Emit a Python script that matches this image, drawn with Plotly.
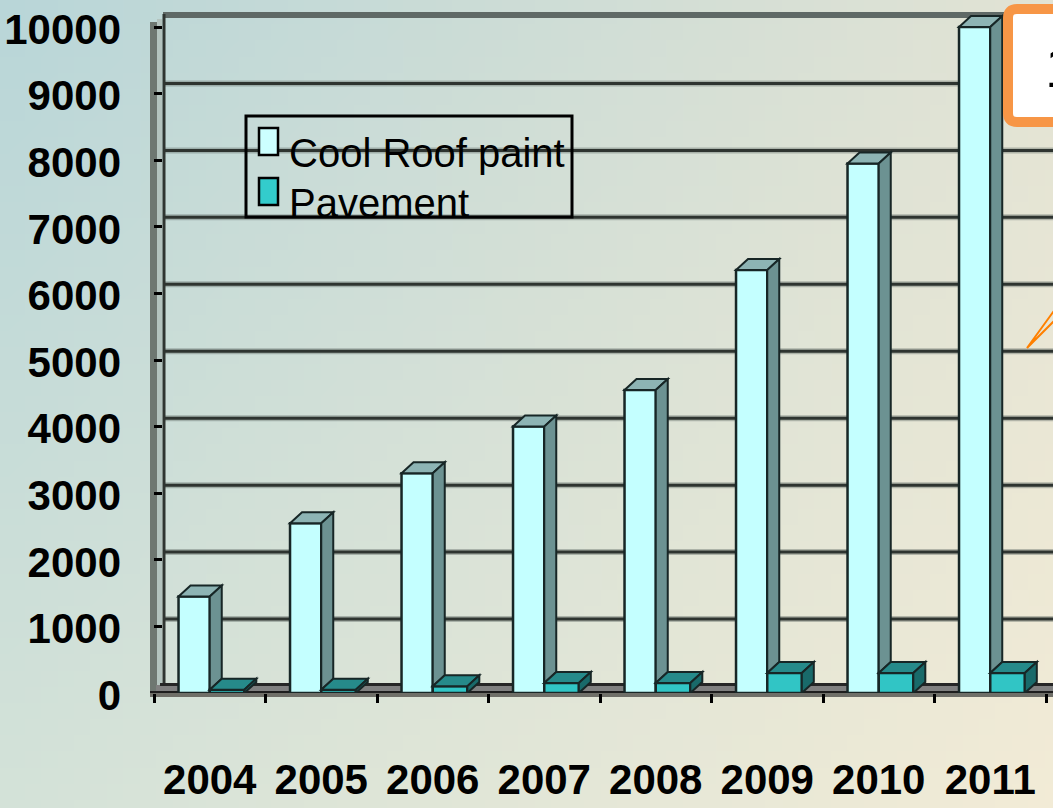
import base64
import struct
import zlib

import plotly.graph_objects as go

# ---- data -------------------------------------------------------------
YEARS = ["2004", "2005", "2006", "2007", "2008", "2009", "2010", "2011"]
COOL_ROOF = [1450, 2550, 3300, 4000, 4550, 6350, 7950, 10000]
PAVEMENT = [50, 50, 100, 150, 150, 300, 300, 300]
Y_TICKS = [0, 1000, 2000, 3000, 4000, 5000, 6000, 7000, 8000, 9000, 10000]
SERIES_NAMES = ["Cool Roof paint", "Pavement"]
CALLOUT_TEXT = "1"

# ---- geometry ----------------------------------------------------------
W, H = 1053, 808
ML, MR, MT, MB = 154, 0, 10, 115
PW, PH = W - ML - MR, H - MT - MB
BASE_PX = H - MB              # pixel row of the value 0 on the front plane
CAT_PX = 111.5                # width of one category in pixels
X_RANGE = [-0.5, -0.5 + PW / CAT_PX]
Y_MAX = 10000
FRONT_TOP_PX = 27             # pixel row of Y_MAX on the front plane
PX_PER_UNIT = (BASE_PX - FRONT_TOP_PX) / Y_MAX
Y_RANGE = [0, PH / PX_PER_UNIT]   # leaves headroom for the top faces of the tallest column
BACK_DOMAIN = [(BASE_PX - 686) / PH, (BASE_PX - 16.5) / PH]   # back wall scale

COOL_W, PAV_W = 0.28, 0.31    # bar widths in category units
DEPTH_X = 12 / CAT_PX         # 3-D depth offset (x, category units)
DEPTH_Y = 11 / PX_PER_UNIT    # 3-D depth offset (y, value units)

FONT = "Liberation Sans, Arial, sans-serif"

COOL_FRONT, COOL_TOP, COOL_SIDE = "#c4ffff", "#8db4b4", "#6c9292"
PAV_FRONT, PAV_TOP, PAV_SIDE = "#31c5c5", "#268a8a", "#196a6a"
EDGE = "#172626"


def gradient_png(w, h, tl, tr, bl, br):
    """Build a small bilinear-gradient PNG as a data URI."""
    rows = []
    for j in range(h):
        fy = j / (h - 1)
        row = bytearray([0])
        for i in range(w):
            fx = i / (w - 1)
            for k in range(3):
                top = (1 - fx) * tl[k] + fx * tr[k]
                bot = (1 - fx) * bl[k] + fx * br[k]
                row.append(int(round((1 - fy) * top + fy * bot)))
        rows.append(bytes(row))
    raw = b"".join(rows)

    def chunk(tag, data):
        body = tag + data
        return struct.pack(">I", len(data)) + body + struct.pack(">I", zlib.crc32(body) & 0xFFFFFFFF)

    png = (b"\x89PNG\r\n\x1a\n"
           + chunk(b"IHDR", struct.pack(">IIBBBBB", w, h, 8, 2, 0, 0, 0))
           + chunk(b"IDAT", zlib.compress(raw, 9))
           + chunk(b"IEND", b""))
    return "data:image/png;base64," + base64.b64encode(png).decode()


def pix_shape(path, **kw):
    """Shape drawn in figure pixels (origin top-left), converted to plot-relative pixels.

    Each command carries exactly one group of parameters, as plotly expects."""
    parts = []
    for cmd, pts in path:
        coords = " ".join(f"{x - ML:.2f},{BASE_PX - y:.2f}" for x, y in pts)
        parts.append(f"{cmd}{coords}")
    d = dict(type="path", xref="paper", yref="paper", xsizemode="pixel", ysizemode="pixel",
             xanchor=0, yanchor=0, path=" ".join(parts))
    d.update(kw)
    return d


def poly_px(pts, close=True, **kw):
    cmds = [("M", [pts[0]])] + [("L", [p]) for p in pts[1:]]
    if close:
        cmds.append(("Z", []))
    return pix_shape(cmds, **kw)


def rect_px(x0, y0, x1, y1, **kw):
    return poly_px([(x0, y0), (x1, y0), (x1, y1), (x0, y1)], **kw)


def line_px(x0, y0, x1, y1, color, width, **kw):
    return poly_px([(x0, y0), (x1, y1)], close=False, line=dict(color=color, width=width), **kw)


def poly_data(pts, fill, **kw):
    d = "M" + " L".join(f"{x:.4f},{y:.2f}" for x, y in pts) + " Z"
    return dict(type="path", xref="x", yref="y", path=d, fillcolor=fill,
                line=dict(color=EDGE, width=2), layer="above", **kw)


fig = go.Figure()

fig.add_bar(x=YEARS, y=COOL_ROOF, name=SERIES_NAMES[0], offset=-COOL_W, width=COOL_W,
            marker=dict(color=COOL_FRONT, line=dict(color=EDGE, width=2.5)), showlegend=False)
fig.add_bar(x=YEARS, y=PAVEMENT, name=SERIES_NAMES[1], offset=0, width=PAV_W,
            marker=dict(color=PAV_FRONT, line=dict(color=EDGE, width=2.5)), showlegend=False)

shapes = []

# back wall: grid lines on the rear plane (top edge drawn separately below)
GRID_X0 = (163 - ML) / PW
for v in Y_TICKS[1:-1]:
    shapes.append(dict(type="line", xref="paper", yref="y2", x0=GRID_X0, x1=1.02,
                       y0=v, y1=v, line=dict(color="rgba(95,105,100,0.40)", width=6),
                       layer="below"))
    shapes.append(dict(type="line", xref="paper", yref="y2", x0=GRID_X0, x1=1.02,
                       y0=v, y1=v, line=dict(color="#2e3430", width=3), layer="below"))
shapes.append(line_px(163, 15, W + 20, 15, "#5f6966", 6, layer="below"))

# left side wall
shapes.append(rect_px(150, 22, 157, 697, fillcolor="#6e7771", line=dict(width=0), layer="below"))
shapes.append(rect_px(157, 19, 162, 690, fillcolor="#b3c3be", line=dict(width=0), layer="below"))
shapes.append(line_px(164, 14, 164, 688, "#2f3531", 3, layer="below"))

# floor
shapes.append(rect_px(150, 692, W + 20, 697, fillcolor="#6f6f68", line=dict(width=0), layer="below"))
shapes.append(rect_px(156, 685, W + 20, 692, fillcolor="#808080", line=dict(width=0), layer="below"))
shapes.append(line_px(160, 684.5, W + 20, 684.5, "#262626", 3, layer="below"))
shapes.append(line_px(150, 692, W + 20, 692, "#1e1e1e", 2, layer="below"))

# 3-D top and side faces of the columns
for i, (c, p) in enumerate(zip(COOL_ROOF, PAVEMENT)):
    x0, x1, x2 = i - COOL_W, i, i + PAV_W
    dx, dy = DEPTH_X, DEPTH_Y
    # cool roof paint: top, then side (the part not hidden by the pavement column)
    shapes.append(poly_data([(x0, c), (x1, c), (x1 + dx, c + dy), (x0 + dx, c + dy)], COOL_TOP))
    shapes.append(poly_data([(x1, p), (x1, c), (x1 + dx, c + dy), (x1 + dx, p + dy)], COOL_SIDE))
    # pavement: top and side
    shapes.append(poly_data([(x1, p), (x2, p), (x2 + dx, p + dy), (x1 + dx, p + dy)], PAV_TOP))
    shapes.append(poly_data([(x2, 0), (x2, p), (x2 + dx, p + dy), (x2 + dx, dy)], PAV_SIDE))

# legend box
shapes.append(rect_px(246, 116, 572, 217, line=dict(color="black", width=3), layer="above"))
shapes.append(rect_px(259, 128, 278, 155, fillcolor="#ccffff", line=dict(color="black", width=2.5),
                      layer="above"))
shapes.append(rect_px(259, 178, 278, 205, fillcolor="#33cccc", line=dict(color="black", width=2.5),
                      layer="above"))

# orange callout (partly outside the page)
r = 9
cx0, cy0, cx1, cy1 = 1008, 9, 1120, 122
shapes.append(pix_shape([("M", [(cx0 + r, cy0)]), ("L", [(cx1 - r, cy0)]),
                         ("Q", [(cx1, cy0), (cx1, cy0 + r)]), ("L", [(cx1, cy1 - r)]),
                         ("Q", [(cx1, cy1), (cx1 - r, cy1)]), ("L", [(cx0 + r, cy1)]),
                         ("Q", [(cx0, cy1), (cx0, cy1 - r)]), ("L", [(cx0, cy0 + r)]),
                         ("Q", [(cx0, cy0), (cx0 + r, cy0)]), ("Z", [])],
                        fillcolor="white", line=dict(color="#f79646", width=10), layer="above"))
shapes.append(poly_px([(1090, 261), (1027, 348), (1090, 285)], close=False,
                      line=dict(color="#ff8000", width=2), layer="above"))

annotations = [
    dict(xref="paper", yref="paper", x=(287 - ML) / PW, y=(BASE_PX - 153) / PH,
         xanchor="left", yanchor="middle", text=SERIES_NAMES[0], showarrow=False,
         font=dict(family=FONT, size=40, color="black")),
    dict(xref="paper", yref="paper", x=(287 - ML) / PW, y=(BASE_PX - 203) / PH,
         xanchor="left", yanchor="middle", text=SERIES_NAMES[1], showarrow=False,
         font=dict(family=FONT, size=40, color="black")),
    dict(xref="paper", yref="paper", x=(1043 - ML) / PW, y=(BASE_PX - 66) / PH,
         xanchor="left", yanchor="middle", text=CALLOUT_TEXT, showarrow=False,
         font=dict(family=FONT, size=58, color="black")),
]

bg = gradient_png(64, 50, (185, 214, 216), (226, 227, 212), (212, 226, 216), (242, 235, 214))

fig.update_layout(
    template="none",
    width=W, height=H,
    margin=dict(l=ML, r=MR, t=MT, b=MB, pad=0, autoexpand=False),
    paper_bgcolor="#dfe3d8",
    plot_bgcolor="rgba(0,0,0,0)",
    barmode="overlay",
    showlegend=False,
    shapes=shapes,
    annotations=annotations,
    images=[dict(source=bg, xref="paper", yref="paper", x=-ML / PW, y=1 + MT / PH,
                 sizex=W / PW, sizey=H / PH, xanchor="left", yanchor="top",
                 sizing="stretch", layer="below")],
    xaxis=dict(type="category", range=X_RANGE, tickson="boundaries", ticks="outside",
               ticklen=9, tickwidth=3, tickcolor="black", showgrid=False, showline=False,
               zeroline=False, ticklabelstandoff=58, tickangle=0, automargin=False,
               tickfont=dict(family=FONT, size=42, color="black", weight="bold")),
    yaxis=dict(domain=[0, 1], range=Y_RANGE, tickvals=Y_TICKS, tickformat="d",
               ticks="inside", ticklen=8, tickwidth=3, tickcolor="black", showgrid=False,
               showline=False, zeroline=False, ticklabelstandoff=32, ticklabelshift=2,
               automargin=False, ticklabeloverflow="allow",
               tickfont=dict(family=FONT, size=42, color="black", weight="bold")),
    yaxis2=dict(domain=BACK_DOMAIN, range=[0, Y_MAX], anchor="x", showticklabels=False,
                showgrid=False, zeroline=False, showline=False, ticks="", automargin=False),
)

fig.write_html("out.html")
